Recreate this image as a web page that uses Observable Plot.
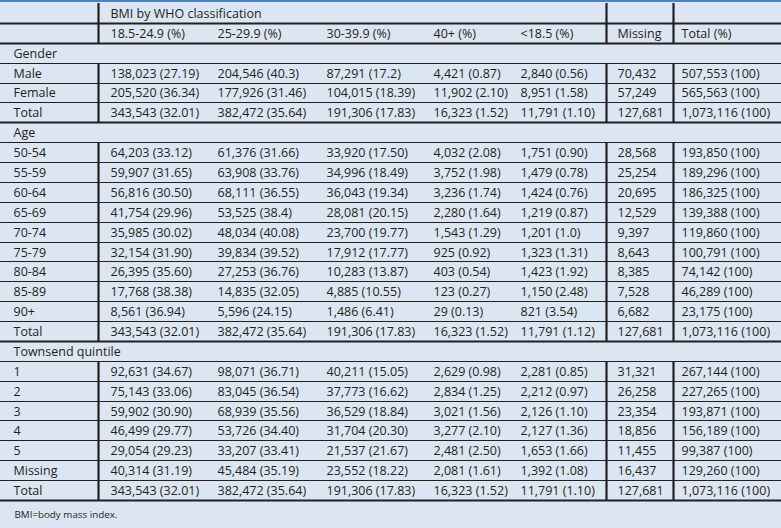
<!DOCTYPE html>
<html><head><meta charset="utf-8">
<script src="https://cdn.jsdelivr.net/npm/d3@7"></script>
<script src="https://cdn.jsdelivr.net/npm/@observablehq/plot@0.6"></script>
<style>
html,body{margin:0;padding:0;background:#dce6f2;}
#chart{border-top:2px solid #4f81bd;width:781px;}
svg{display:block;}
</style></head><body><div id="chart"></div>
<script>
const groupTitle = "BMI by WHO classification";
const columnHeaders = ["18.5-24.9 (%)", "25-29.9 (%)", "30-39.9 (%)", "40+ (%)", "<18.5 (%)", "Missing", "Total (%)"];
const sectionTitles = ["Gender", "Age", "Townsend quintile"];
const genderRows = [
  ["Male", "138,023 (27.19)", "204,546 (40.3)", "87,291 (17.2)", "4,421 (0.87)", "2,840 (0.56)", "70,432", "507,553 (100)"],
  ["Female", "205,520 (36.34)", "177,926 (31.46)", "104,015 (18.39)", "11,902 (2.10)", "8,951 (1.58)", "57,249", "565,563 (100)"],
  ["Total", "343,543 (32.01)", "382,472 (35.64)", "191,306 (17.83)", "16,323 (1.52)", "11,791 (1.10)", "127,681", "1,073,116 (100)"]
];
const ageRows = [
  ["50-54", "64,203 (33.12)", "61,376 (31.66)", "33,920 (17.50)", "4,032 (2.08)", "1,751 (0.90)", "28,568", "193,850 (100)"],
  ["55-59", "59,907 (31.65)", "63,908 (33.76)", "34,996 (18.49)", "3,752 (1.98)", "1,479 (0.78)", "25,254", "189,296 (100)"],
  ["60-64", "56,816 (30.50)", "68,111 (36.55)", "36,043 (19.34)", "3,236 (1.74)", "1,424 (0.76)", "20,695", "186,325 (100)"],
  ["65-69", "41,754 (29.96)", "53,525 (38.4)", "28,081 (20.15)", "2,280 (1.64)", "1,219 (0.87)", "12,529", "139,388 (100)"],
  ["70-74", "35,985 (30.02)", "48,034 (40.08)", "23,700 (19.77)", "1,543 (1.29)", "1,201 (1.0)", "9,397", "119,860 (100)"],
  ["75-79", "32,154 (31.90)", "39,834 (39.52)", "17,912 (17.77)", "925 (0.92)", "1,323 (1.31)", "8,643", "100,791 (100)"],
  ["80-84", "26,395 (35.60)", "27,253 (36.76)", "10,283 (13.87)", "403 (0.54)", "1,423 (1.92)", "8,385", "74,142 (100)"],
  ["85-89", "17,768 (38.38)", "14,835 (32.05)", "4,885 (10.55)", "123 (0.27)", "1,150 (2.48)", "7,528", "46,289 (100)"],
  ["90+", "8,561 (36.94)", "5,596 (24.15)", "1,486 (6.41)", "29 (0.13)", "821 (3.54)", "6,682", "23,175 (100)"],
  ["Total", "343,543 (32.01)", "382,472 (35.64)", "191,306 (17.83)", "16,323 (1.52)", "11,791 (1.12)", "127,681", "1,073,116 (100)"]
];
const townsendRows = [
  ["1", "92,631 (34.67)", "98,071 (36.71)", "40,211 (15.05)", "2,629 (0.98)", "2,281 (0.85)", "31,321", "267,144 (100)"],
  ["2", "75,143 (33.06)", "83,045 (36.54)", "37,773 (16.62)", "2,834 (1.25)", "2,212 (0.97)", "26,258", "227,265 (100)"],
  ["3", "59,902 (30.90)", "68,939 (35.56)", "36,529 (18.84)", "3,021 (1.56)", "2,126 (1.10)", "23,354", "193,871 (100)"],
  ["4", "46,499 (29.77)", "53,726 (34.40)", "31,704 (20.30)", "3,277 (2.10)", "2,127 (1.36)", "18,856", "156,189 (100)"],
  ["5", "29,054 (29.23)", "33,207 (33.41)", "21,537 (21.67)", "2,481 (2.50)", "1,653 (1.66)", "11,455", "99,387 (100)"],
  ["Missing", "40,314 (31.19)", "45,484 (35.19)", "23,552 (18.22)", "2,081 (1.61)", "1,392 (1.08)", "16,437", "129,260 (100)"],
  ["Total", "343,543 (32.01)", "382,472 (35.64)", "191,306 (17.83)", "16,323 (1.52)", "11,791 (1.10)", "127,681", "1,073,116 (100)"]
];
const footnote = "BMI=body mass index.";

// ---- layout (styles / positions, not data) ----
const colEdges = [0, 98, 205, 314, 421, 508, 606, 673, 781];
const colInset = [13, 12, 12, 12, 12, 12, 11, 8];
const dividerCols = [1, 6, 7];
const ink = "#231f20";

// ---- build table structure ----
const rows = [];
rows.push({kind: "header", cells: [null, groupTitle]});
rows.push({kind: "header", cells: [null, ...columnHeaders]});
[genderRows, ageRows, townsendRows].forEach((block, k) => {
  rows.push({kind: "section", cells: [sectionTitles[k]]});
  block.forEach(r => rows.push({kind: r[0] === "Total" ? "total" : "data", cells: r}));
});
const nRows = rows.length;

const cells = [];
rows.forEach((r, i) => r.cells.forEach((t, c) => {
  if (t != null) cells.push({row: i, col: c, text: t});
}));

const boundaries = d3.range(1, nRows + 1).map(i => ({
  y: i, thick: rows[i - 1].kind === "header" || rows[i - 1].kind === "total"
}));

const dividers = [];
rows.forEach((r, i) => {
  if (r.kind !== "section") dividerCols.forEach(c => dividers.push({x: colEdges[c], y1: i, y2: i + 1}));
});

const chart = Plot.plot({
  width: 781,
  height: 526,
  margin: 0,
  x: {type: "linear", domain: [0, 781], range: [0, 781], axis: null},
  y: {type: "linear", domain: [0, nRows], range: [1, 498], round: true, axis: null},
  style: {background: "transparent", fontFamily: "'Open Sans', sans-serif", color: ink},
  marks: [
    Plot.ruleY(boundaries.filter(d => !d.thick), {y: "y", stroke: ink, strokeWidth: 1}),
    Plot.ruleY(boundaries.filter(d => d.thick), {y: "y", stroke: ink, strokeWidth: 2.2}),
    Plot.ruleX(dividers, {x: "x", y1: "y1", y2: "y2", stroke: ink, strokeWidth: 2.2}),
    Plot.text(cells, {
      x: d => colEdges[d.col] + colInset[d.col],
      y: d => d.row + 0.5,
      text: "text",
      textAnchor: "start",
      fontSize: 12.5,
      fill: ink
    }),
    Plot.text([footnote], {
      frameAnchor: "bottom-left", dx: 14, dy: -11,
      textAnchor: "start", fontSize: 9.8, fill: ink
    })
  ]
});
document.getElementById("chart").append(chart);
</script>
</body></html>
